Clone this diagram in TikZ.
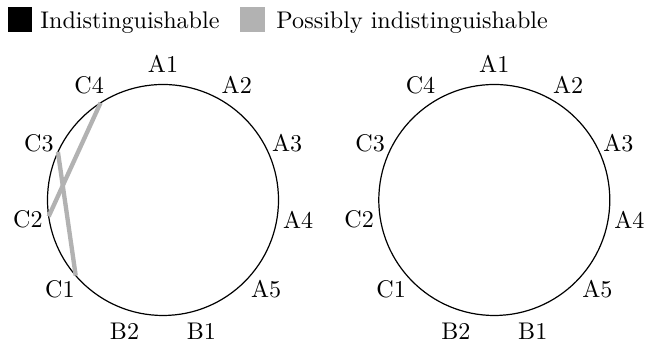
\documentclass[tikz,border=0pt]{standalone}
\usetikzlibrary{calc}
\begin{document}
\begin{tikzpicture}[x=0.415pt,y=0.415pt,
  ring/.style={draw=black, line width=0.5pt},
  possible/.style={draw=black!30, line width=1.8pt},
  swatch/.style={minimum size=10pt, inner sep=0pt, draw=none},
  legendtext/.style={anchor=base west, inner sep=0pt},
  ptlabel/.style={inner sep=0pt}]
\useasboundingbox (0,0) rectangle (650,344);
\node[swatch,fill=black] (kb) at (20,324.5) {};
\node[legendtext] (kbt) at (40,315.7) {Indistinguishable};
\node[swatch,fill=black!30] (kg) at (252.5,324.5) {};
\node[legendtext] (kgt) at (276,315.7) {Possibly indistinguishable};
\foreach \nm/\cx in {L/163, R/494.3} {
  \coordinate (\nm) at (\cx,144);
  \draw[ring] (\nm) circle[radius=47.93pt];
  \foreach \lab [count=\k from 0] in {A1,A2,A3,A4,A5,B1,B2,C1,C2,C3,C4} {
    \pgfmathsetmacro\ang{90-\k*360/11}
    \coordinate (\nm\lab) at ($(\nm)+(\ang:115.5)$);
    \node[ptlabel] (\nm\lab t) at ($(\nm)+(\ang:136.5)$) {\lab};
  }
}
\draw[possible] (LC4) -- (LC2);
\draw[possible] (LC3) -- (LC1);
\end{tikzpicture}
\end{document}
